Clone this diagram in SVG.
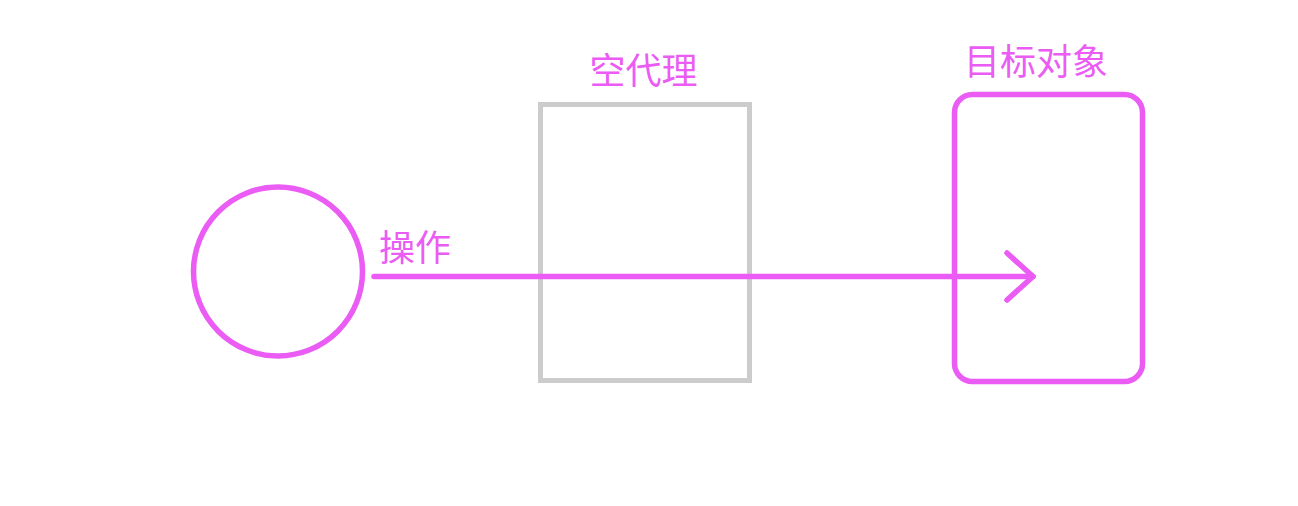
<svg xmlns="http://www.w3.org/2000/svg" width="1298" height="506" viewBox="0 0 1298 506">
<style>
.pk{fill:none;stroke:#ea5cf4;stroke-width:5.5;stroke-linecap:round;stroke-linejoin:round}
.gr{fill:none;stroke:#cccccc;stroke-width:5}
.lb{fill:#ea5cf4;font-family:"Noto Sans CJK SC","Noto Sans",sans-serif;font-size:36px}
</style>
<rect width="1298" height="506" fill="#ffffff"/>
<g id="client">
<circle class="pk" cx="278" cy="271.5" r="84.5"/>
</g>
<g id="proxy">
<rect class="gr" x="540.5" y="104.5" width="209" height="276"/>
<text class="lb" x="643.5" y="84" text-anchor="middle">空代理</text>
</g>
<g id="target">
<rect class="pk" x="954.5" y="94.5" width="188" height="287" rx="18"/>
<text class="lb" x="964" y="75">目标对象</text>
</g>
<g id="connectors">
<line class="pk" x1="374" y1="276.5" x2="1033" y2="276.5"/>
<polyline class="pk" points="1007,253 1033,276.5 1007,300"/>
<text class="lb" x="379" y="261">操作</text>
</g>
</svg>
